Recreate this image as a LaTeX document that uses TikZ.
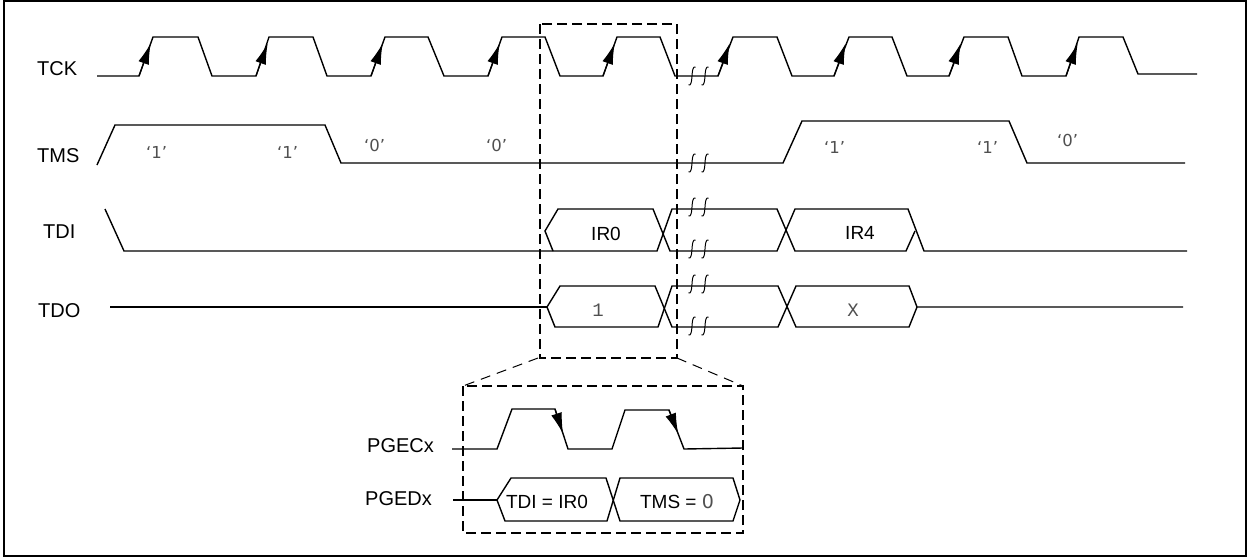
\documentclass[tikz,border=0pt]{standalone}
\usepackage{fontspec}
\setmainfont{Liberation Sans}
\newfontfamily\monof{Liberation Mono}
\newfontfamily\dvs{DejaVu Sans}
\usetikzlibrary{arrows.meta,calc}
\definecolor{valgray}{HTML}{505050}
\tikzset{
  sig/.style={line width=1.4pt, line join=miter},
  edgearrow/.style={line width=1.2pt, -{Latex[length=21pt,width=11pt]}},
  dbox/.style={line width=1.8pt, dash pattern=on 10pt off 5pt},
  dlink/.style={line width=1pt, dash pattern=on 10pt off 7pt},
  lbl/.style={inner sep=0pt, anchor=base west, font=\fontsize{20}{24}\selectfont},
  celltxt/.style={inner sep=0pt, anchor=base, font=\fontsize{19}{23}\selectfont},
  quoted/.style={inner sep=0pt, anchor=base west, text=valgray, font=\dvs\fontsize{16.5}{20}\selectfont},
  monotxt/.style={inner sep=0pt, anchor=base, text=valgray, font=\monof\fontsize{19}{23}\selectfont},
  brk/.pic={\draw[line width=1pt] (-3.5,9) .. controls (2,11) and (-2,-11) .. (3.5,-9);}
}
\begin{document}
\begin{tikzpicture}[x=1pt,y=-1pt]
\useasboundingbox (0,0) rectangle (1248,558);
% outer frame
\draw[line width=2pt] (4,1) rectangle (1246,556);

% labels
\node[lbl] (lTCK) at (37,75) {TCK};
\node[lbl] (lTMS) at (37,162) {TMS};
\node[lbl] (lTDI) at (43,238) {TDI};
\node[lbl] (lTDO) at (38,317) {TDO};
\node[lbl] (lPGEC) at (367,452) {PGECx};
\node[lbl] (lPGED) at (365,505) {PGEDx};

% TCK
\draw[sig] (97,76) -- (139,76) -- (153,37) -- (198,37) -- (212,76) -- (256,76) -- (269,37) -- (313,37) -- (327,76) -- (371,76) -- (385,37) -- (428,37) -- (444,76) -- (488,76) -- (502,37) -- (545,37) -- (560,76) -- (603,76) -- (617,37) -- (660,37) -- (675,76) -- (718,76) -- (733,37) -- (777,37) -- (792,76) -- (834,76) -- (849,37) -- (892,37) -- (907,76) -- (949,76) -- (964,37) -- (1008,37) -- (1022,76) -- (1066,76) -- (1079,37) -- (1123,37) -- (1138,74) -- (1197,74);
\foreach \x in {139,256,371,488,603,718,834,949,1066}{
  \draw[edgearrow] (\x,76) -- ($(\x,76)!0.84!(\x+14,37)$);
}

% TMS
\draw[sig] (97,165) -- (115,125) -- (325,125) -- (341,163) -- (783,163) -- (802,121) -- (1009,121) -- (1027,163) -- (1185,163);
\node[quoted] (q1) at (146,158) {‘1’};
\node[quoted] (q2) at (277,158) {‘1’};
\node[quoted] (q3) at (364,151) {‘0’};
\node[quoted] (q4) at (486,151) {‘0’};
\node[quoted] (q5) at (824,153) {‘1’};
\node[quoted] (q6) at (977,153) {‘1’};
\node[quoted] (q7) at (1057,146) {‘0’};

% TDI
\draw[sig] (105,209) -- (124,251) -- (553,251);
\draw[sig] (553,251) -- (545,231) -- (558,209) -- (653,209) -- (670,251) -- (777,251) -- (795,209) -- (908,209) -- (924,251) -- (1187,251);
\draw[sig] (553,251) -- (657,251) -- (672,209) -- (777,209) -- (795,251) -- (906,251) -- (915,231);
\node[celltxt] (tIR0) at (606,240) {IR0};
\node[celltxt] (tIR4) at (860,239) {IR4};

% TDO
\draw[sig] (110,307) -- (547,307);
\draw[sig] (547,307) -- (560,286) -- (655,286) -- (672,327) -- (778,327) -- (796,286) -- (909,286) -- (917,307) -- (1183,307);
\draw[sig] (547,307) -- (555,327) -- (658,327) -- (672,286) -- (778,286) -- (796,327) -- (909,327) -- (917,307);
\node[monotxt] (tOne) at (598,316) {1};
\node[monotxt] (tX) at (853,316) {X};

% break marks
\foreach \y in {76,163,207,249,284,326}{
  \pic at (692,\y) {brk};
  \pic at (705,\y) {brk};
}

% dashed zoom box and link
\draw[dbox] (540,24) rectangle (677,358);
\draw[dlink] (538,358) -- (463,386);
\draw[dlink] (677,358) -- (743,386);
\draw[dbox] (463,386) rectangle (743,533);

% PGECx
\draw[sig] (452,449) -- (497,449) -- (512,409) -- (555,409) -- (568,449) -- (612,449) -- (625,410) -- (669,410) -- (684,449) -- (743,448);
\draw[edgearrow] (555,409) -- ($(555,409)!0.62!(568,449)$);
\draw[edgearrow] (669,410) -- ($(669,410)!0.62!(684,449)$);

% PGEDx
\draw[sig] (453,500) -- (497,500);
\draw[sig] (497,500) -- (511,478) -- (606,478) -- (620,521) -- (733,521) -- (740,500);
\draw[sig] (497,500) -- (505,521) -- (607,521) -- (620,478) -- (733,478) -- (740,500);
\node[celltxt] (tTDI) at (547,508) {TDI = IR0};
\node[celltxt] (tTMS) at (677,508) {TMS = {\color{valgray}\dvs 0}};
\end{tikzpicture}
\end{document}
